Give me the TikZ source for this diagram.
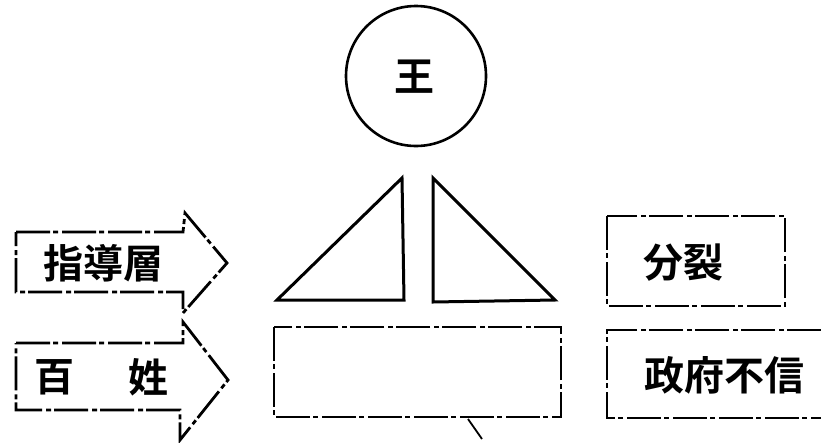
\documentclass[tikz,border=0pt]{standalone}
\usepackage{fontspec}
\newfontfamily\cjk{Noto Sans CJK JP}[BoldFont={Noto Sans CJK JP Bold}]
\begin{document}
\begin{tikzpicture}[x=1pt,y=-1pt,
  line/.style={line width=3pt,line join=miter},
  broken/.style={line width=2.8pt,dash pattern=on 34pt off 3pt on 5pt off 4pt},
  lbl/.style={font=\cjk\bfseries\fontsize{40}{44}\selectfont,inner sep=0pt,text=black}]
\useasboundingbox (0,0) rectangle (821,442);
% king
\node[draw,circle,line width=2.6pt,minimum size=140pt,inner sep=0pt] (king) at (416,76) {};
\node[lbl] (kinglbl) at (414,77) {王};
% triangles
\draw[line] (402,178) -- (277,300) -- (404,300) -- cycle;
\draw[line] (433,178) -- (433,302) -- (555,300) -- cycle;
% base rectangle
\draw[broken] (274,327) rectangle (561,417);
\coordinate (t1) at (468,419);
\coordinate (t2) at (482,439);
\draw[line width=1.8pt] (t1) -- (t2);
% left arrows
\draw[broken] (16,232) -- (183,232) -- (185,213) -- (227,263) -- (183,313) -- (183,292) -- (16,292) -- cycle;
\node[lbl] (lead) at (103,263) {指導層};
\draw[broken] (16,343) -- (183,343) -- (183,322) -- (228,380) -- (180,440) -- (180,410) -- (16,410) -- cycle;
\node[lbl] (hyaku) at (54,377) {百};
\node[lbl] (sei) at (148,377) {姓};
% right boxes
\draw[broken] (607,216) rectangle (785,306);
\node[lbl] (split) at (683,263) {分裂};
\draw[broken] (821,330) -- (607,330) -- (607,418) -- (821,418);
\node[lbl] (distrust) at (724,375) {政府不信};
\end{tikzpicture}
\end{document}
